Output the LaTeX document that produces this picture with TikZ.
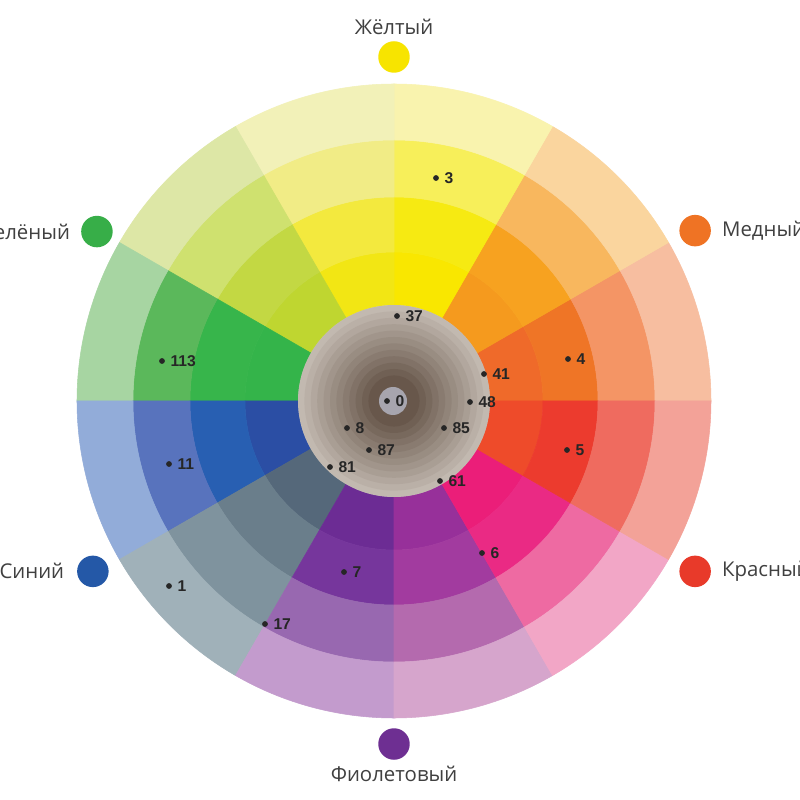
\documentclass[tikz,border=0pt]{standalone}
\usepackage{fontspec}
\setmainfont{Open Sans}
\newfontfamily\numfont{Liberation Sans}
\usetikzlibrary{positioning}

\definecolor{cop1}{HTML}{EF6A2A}\definecolor{cop2}{HTML}{EF7526}\definecolor{cop3}{HTML}{F49565}\definecolor{cop4}{HTML}{F7BEA0}
\definecolor{org1}{HTML}{F59A1E}\definecolor{org2}{HTML}{F7A220}\definecolor{org3}{HTML}{F8B75E}\definecolor{org4}{HTML}{FAD59E}
\definecolor{yel1}{HTML}{F9E700}\definecolor{yel2}{HTML}{F6EA12}\definecolor{yel3}{HTML}{F7EF5A}\definecolor{yel4}{HTML}{F9F3AE}
\definecolor{lem1}{HTML}{F2E614}\definecolor{lem2}{HTML}{F3E93E}\definecolor{lem3}{HTML}{F1EC86}\definecolor{lem4}{HTML}{F2F1B8}
\definecolor{lime1}{HTML}{BFD630}\definecolor{lime2}{HTML}{C3D843}\definecolor{lime3}{HTML}{CFE16F}\definecolor{lime4}{HTML}{DDE7A6}
\definecolor{grn1}{HTML}{34B44A}\definecolor{grn2}{HTML}{37B54B}\definecolor{grn3}{HTML}{5BB85B}\definecolor{grn4}{HTML}{A7D5A2}
\definecolor{blu1}{HTML}{2B4EA4}\definecolor{blu2}{HTML}{285FB2}\definecolor{blu3}{HTML}{5873BD}\definecolor{blu4}{HTML}{92ACD9}
\definecolor{sla1}{HTML}{55687A}\definecolor{sla2}{HTML}{6A7E8B}\definecolor{sla3}{HTML}{7F939E}\definecolor{sla4}{HTML}{A0B1B9}
\definecolor{vio1}{HTML}{6C2C94}\definecolor{vio2}{HTML}{76369C}\definecolor{vio3}{HTML}{9868B0}\definecolor{vio4}{HTML}{C39BCD}
\definecolor{pur1}{HTML}{97309A}\definecolor{pur2}{HTML}{A23B9F}\definecolor{pur3}{HTML}{B46AAE}\definecolor{pur4}{HTML}{D6A5CC}
\definecolor{pnk1}{HTML}{EB1E79}\definecolor{pnk2}{HTML}{EA2A84}\definecolor{pnk3}{HTML}{EE6AA2}\definecolor{pnk4}{HTML}{F2A6C6}
\definecolor{red1}{HTML}{EE4B2A}\definecolor{red2}{HTML}{EC3B2E}\definecolor{red3}{HTML}{EF6B5F}\definecolor{red4}{HTML}{F3A298}
\definecolor{diskout}{HTML}{C2B9B0}\definecolor{diskin}{HTML}{67564A}\definecolor{diskmid}{HTML}{A7A5AE}
\definecolor{numc}{HTML}{262626}\definecolor{tagc}{HTML}{404040}

\begin{document}
\begin{tikzpicture}[x=0.02cm, y=0.02cm,
  dot/.style={circle, fill=numc, minimum size=3.3pt, inner sep=0pt},
  num/.style={inner sep=1pt, text=numc, font=\numfont\bfseries\fontsize{8.9}{10}\selectfont},
  swatch/.style={circle, minimum size=0.63cm, inner sep=0pt},
  tag/.style={inner sep=0pt, text=tagc, font=\fontsize{11.6}{13}\selectfont}]
\useasboundingbox (-394,-399) rectangle (406,401);
\fill[white] (-394,-399) rectangle (406,401);
\foreach \a/\h in {0/cop,30/org,60/yel,90/lem,120/lime,150/grn,180/blu,210/sla,240/vio,270/pur,300/pnk,330/red}
  \foreach \ri/\ro [count=\k] in {96/149,149/204,204/261,261/317}
    \filldraw[fill=\h\k, draw=\h\k, line width=0.3pt] (\a:\ri) arc[start angle=\a, end angle=\a+30, radius=\ri]
      -- (\a+30:\ro) arc[start angle=\a+30, end angle=\a, radius=\ro] -- cycle;
\foreach \i in {0,...,11}{
  \pgfmathtruncatemacro\p{100-\i*9}
  \fill[diskout!\p!diskin] (0,0) circle[radius=96-\i*6.4];
}
\fill[diskmid] (-1,0) circle[radius=14];
\foreach \n/\x/\y in {3/42/223, 37/3/85, 41/90/27, 4/174/42, 48/76/-1, 0/-7/0, 85/50/-27, 5/173/-49,
    61/46/-80, 6/88/-152, 113/-232/40, 8/-47/-27, 87/-25/-49, 81/-64/-66, 11/-225/-63, 1/-225/-185,
    7/-50/-171, 17/-129/-223}{
  \node[dot] (d\n) at (\x,\y) {};
  \node[num, right=1.8pt of d\n] (n\n) {\n};
}
\node[swatch, fill={rgb,255:red,247;green,228;blue,0}] (cYel) at (90:344) {};
\node[tag, above=3.6pt of cYel] (tYel) {Жёлтый};
\node[swatch, fill={rgb,255:red,239;green,115;blue,36}] (cCop) at (29.5:346) {};
\node[tag, right=6pt of cCop] (tCop) {Медный};
\node[swatch, fill={rgb,255:red,232;green,58;blue,42}] (cRed) at (-29.5:346) {};
\node[tag, right=6pt of cRed] (tRed) {Красный};
\node[swatch, fill={rgb,255:red,110;green,47;blue,146}] (cVio) at (-90:343) {};
\node[tag, below=3pt of cVio] (tVio) {Фиолетовый};
\node[swatch, fill={rgb,255:red,36;green,88;blue,167}] (cBlu) at (209.5:346) {};
\node[tag, left=7pt of cBlu] (tBlu) {Синий};
\node[swatch, fill={rgb,255:red,55;green,174;blue,72}] (cGrn) at (150.3:342) {};
\node[tag, left=6pt of cGrn] (tGrn) {Зелёный};
\end{tikzpicture}
\end{document}
